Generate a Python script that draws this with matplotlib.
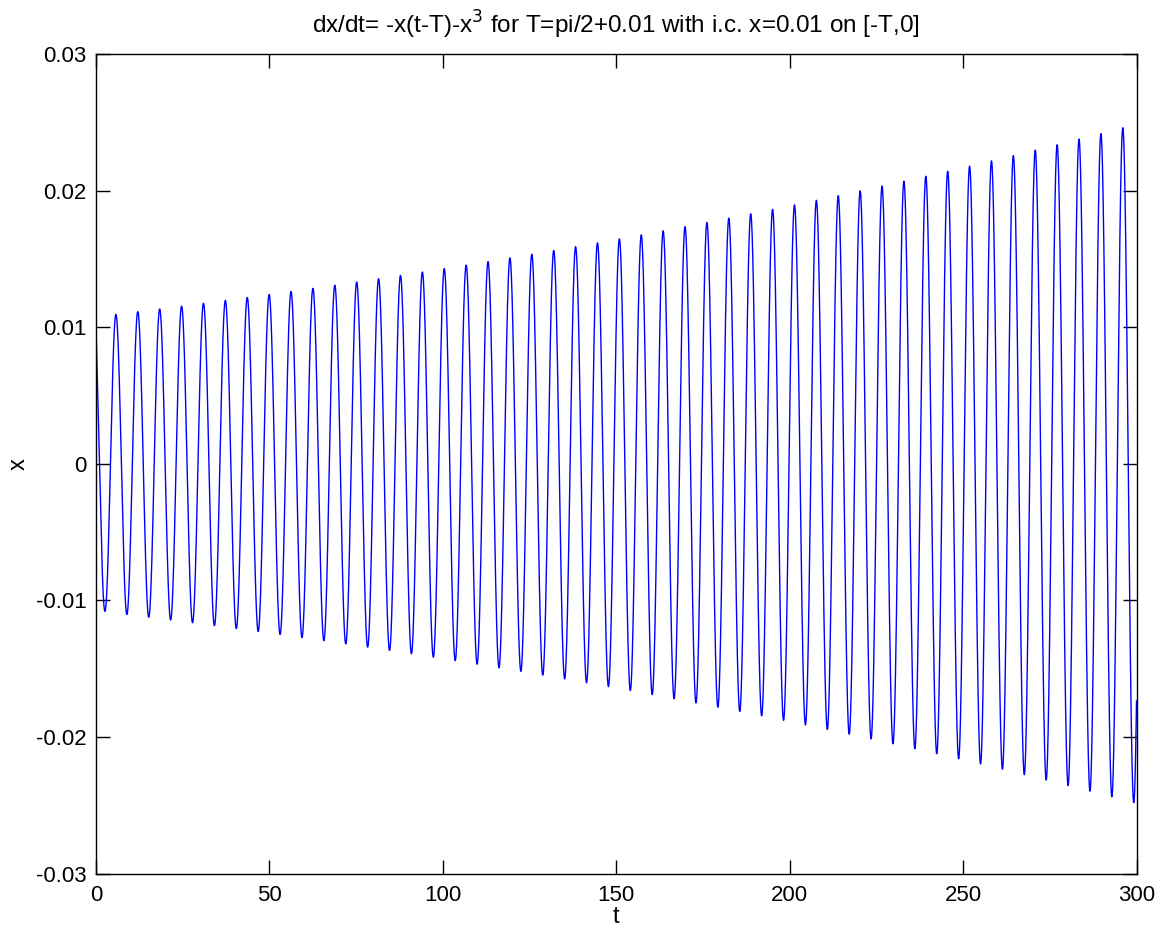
import numpy as np
import matplotlib
matplotlib.use("Agg")
import matplotlib.pyplot as plt

# Model parameters (from the chart title)
delay_T = np.pi / 2 + 0.01
x_initial = 0.01
t_end = 300.0

x_ticks = [0, 50, 100, 150, 200, 250, 300]
y_ticks = [-0.03, -0.02, -0.01, 0, 0.01, 0.02, 0.03]
y_tick_labels = ["-0.03", "-0.02", "-0.01", "0", "0.01", "0.02", "0.03"]

# Integrate dx/dt = -x(t-T) - x^3 with constant history x=x_initial on [-T,0]
N = 1000
h = delay_T / N
steps = int(np.ceil(t_end / h))
x = np.empty(steps + N + 1)
x[:N + 1] = x_initial
def f(xv, d):
    return -d - xv ** 3
for i in range(N, N + steps):
    d0 = x[i - N]
    d1 = x[i - N + 1]
    dm = 0.5 * (d0 + d1)
    xi = x[i]
    k1 = f(xi, d0)
    k2 = f(xi + 0.5 * h * k1, dm)
    k3 = f(xi + 0.5 * h * k2, dm)
    k4 = f(xi + h * k3, d1)
    x[i + 1] = xi + h / 6 * (k1 + 2 * k2 + 2 * k3 + k4)
t = (np.arange(steps + 1)) * h
xs = x[N:]

plt.rcParams['font.family'] = ['Liberation Sans', 'DejaVu Sans']
fig = plt.figure(figsize=(11.64, 9.38), dpi=100)
ax = fig.add_axes([96 / 1164, 1 - 873.5 / 938, (1136.5 - 96) / 1164, (873.5 - 54) / 938])
ax.plot(t, xs, color=(0, 0, 1), linewidth=1.0)
ax.set_xlim(0, 300)
ax.set_ylim(-0.03, 0.03)
ax.set_xticks(x_ticks)
ax.set_xticklabels([str(v) for v in x_ticks])
ax.set_yticks(y_ticks)
ax.set_yticklabels(y_tick_labels)
ax.tick_params(direction='in', length=10, width=1, labelsize=16, top=True, right=True)
ax.tick_params(axis='x', pad=8)
ax.tick_params(axis='y', pad=7)
for s in ax.spines.values():
    s.set_linewidth(1)
ax.set_xlabel('t', fontsize=17, labelpad=0)
ax.set_ylabel('x', fontsize=17, labelpad=4)
ax.set_title(r'dx/dt= -x(t-T)-x$^3$ for T=pi/2+0.01 with i.c. x=0.01 on [-T,0]', fontsize=17.5, pad=15)
fig.savefig('out.png', dpi=100, facecolor='white')
